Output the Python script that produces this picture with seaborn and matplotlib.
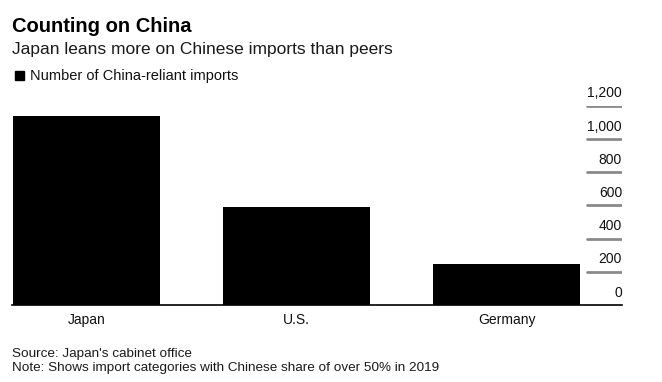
import matplotlib
matplotlib.use("Agg")
import matplotlib.pyplot as plt
import seaborn as sns
import pandas as pd

countries = ["Japan", "U.S.", "Germany"]
imports = [1138, 590, 249]
yticks = [0, 200, 400, 600, 800, 1000, 1200]
ytick_labels = ["0", "200", "400", "600", "800", "1,000", "1,200"]

title = "Counting on China"
subtitle = "Japan leans more on Chinese imports than peers"
legend_label = "Number of China-reliant imports"
source = "Source: Japan's cabinet office"
note = "Note: Shows import categories with Chinese share of over 50% in 2019"

sns.set_theme(style="white")
plt.rcParams["font.family"] = ["Liberation Sans", "DejaVu Sans"]

W, H = 662, 382
fig = plt.figure(figsize=(W / 100, H / 100), dpi=100)
# axes: x 12..622 px, y 105.7..305 px
ax = fig.add_axes([12 / W, 1 - 305 / H, 610 / W, (305 - 105.7) / H])

df = pd.DataFrame({"country": countries, "imports": imports})
sns.barplot(data=df, x="country", y="imports", color="black", width=0.7,
            saturation=1, ax=ax, edgecolor="none")

ax.set_xlim(-0.355, 2.55)
ax.set_ylim(0, 1200)
for s in ["top", "right", "left"]:
    ax.spines[s].set_visible(False)
ax.spines["bottom"].set_color("black")
ax.spines["bottom"].set_linewidth(1.2)
ax.set_xlabel("")
ax.set_ylabel("")
ax.set_yticks([])
ax.tick_params(axis="x", length=0, pad=6, labelsize=10, labelcolor="#111111")

grid_x0 = (586.7 - 12) / 610
for v, lab in zip(yticks, ytick_labels):
    if v > 0:
        ax.axhline(v, xmin=grid_x0, xmax=1.0, color="#8a8a8a", lw=2, zorder=1)
    ax.annotate(lab, xy=(1.0, v), xycoords=ax.get_yaxis_transform(),
                xytext=(0, 6), textcoords="offset points",
                ha="right", va="baseline", fontsize=10, color="#111111")

fig.text(12.5 / W, 1 - 31.5 / H, title, fontsize=14.5, fontweight="bold",
         va="baseline", ha="left", color="black")
fig.text(12.5 / W, 1 - 54 / H, subtitle, fontsize=12.5, va="baseline", ha="left",
         color="#1a1a1a")
fig.patches.append(plt.Rectangle((15 / W, 1 - 80 / H), 9 / W, 9 / H,
                                 transform=fig.transFigure, color="black"))
fig.text(30.5 / W, 1 - 80 / H, legend_label, fontsize=10.5, va="baseline", ha="left",
         color="#111111")
fig.text(12.5 / W, 1 - 357.5 / H, source, fontsize=9.7, va="baseline", ha="left",
         color="#1a1a1a")
fig.text(12.5 / W, 1 - 371 / H, note, fontsize=9.7, va="baseline", ha="left",
         color="#1a1a1a")

fig.savefig("out.png", dpi=100)
